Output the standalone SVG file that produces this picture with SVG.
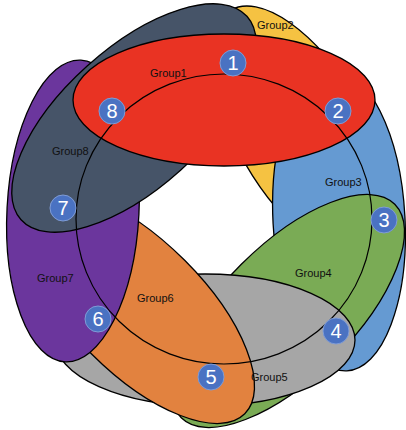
<svg xmlns="http://www.w3.org/2000/svg" width="406" height="430" viewBox="0 0 406 430">
<style>
.e{stroke:#000;stroke-width:1.3}
.lbl{font-family:"Liberation Sans",Arial,sans-serif;font-size:11px;fill:#111}
.badge circle{fill:#4A72C2;stroke:#7F9CD6;stroke-width:1}
.badge text{font-family:"Liberation Sans",Arial,sans-serif;font-size:20px;fill:#fff;text-anchor:middle}
</style>
<rect width="406" height="430" fill="#fff"/>
<g id="group2"><ellipse class="e" cx="300.5" cy="131.4" rx="140" ry="64" transform="rotate(60 300.5 131.4)" fill="#F5C242"/></g>
<g id="group3"><ellipse class="e" cx="339" cy="220" rx="66" ry="151" transform="rotate(-3 339 220)" fill="#659AD2"/></g>
<g id="group4"><ellipse class="e" cx="288" cy="311" rx="151" ry="66" transform="rotate(-45 288 311)" fill="#7AAB55"/></g>
<g id="group5"><ellipse class="e" cx="205" cy="340" rx="150" ry="66" fill="#A6A6A6"/></g>
<g id="group6"><ellipse class="e" cx="138" cy="307" rx="151" ry="66" transform="rotate(45 138 307)" fill="#E2823F"/></g>
<g id="group7"><ellipse class="e" cx="73" cy="211" rx="66" ry="151" transform="rotate(3 73 211)" fill="#6B369D"/></g>
<g id="group8"><ellipse class="e" cx="134" cy="118" rx="152" ry="70" transform="rotate(-42 134 118)" fill="#465468"/></g>
<g id="group1"><ellipse class="e" cx="224" cy="100" rx="151" ry="66" fill="#E93323"/></g>
<g id="ring"><ellipse cx="224" cy="219" rx="148" ry="145" fill="none" stroke="#000" stroke-width="1.2"/></g>
<g id="labels">
<text class="lbl" x="150" y="77">Group1</text>
<text class="lbl" x="257" y="29">Group2</text>
<text class="lbl" x="325" y="186">Group3</text>
<text class="lbl" x="295" y="277">Group4</text>
<text class="lbl" x="251" y="381">Group5</text>
<text class="lbl" x="137" y="302">Group6</text>
<text class="lbl" x="37" y="282">Group7</text>
<text class="lbl" x="52" y="155">Group8</text>
</g>
<g id="connectors"></g>
<g id="badges">
<g id="badge1" class="badge"><circle cx="233" cy="63" r="13"/><text x="233" y="70">1</text></g>
<g id="badge2" class="badge"><circle cx="338" cy="111" r="13"/><text x="338" y="118">2</text></g>
<g id="badge3" class="badge"><circle cx="384" cy="220" r="13"/><text x="384" y="227">3</text></g>
<g id="badge4" class="badge"><circle cx="336" cy="331" r="13"/><text x="336" y="338">4</text></g>
<g id="badge5" class="badge"><circle cx="211" cy="377" r="13"/><text x="211" y="384">5</text></g>
<g id="badge6" class="badge"><circle cx="98" cy="319" r="13"/><text x="98" y="326">6</text></g>
<g id="badge7" class="badge"><circle cx="63" cy="208" r="13"/><text x="63" y="215">7</text></g>
<g id="badge8" class="badge"><circle cx="112" cy="111" r="13"/><text x="112" y="118">8</text></g>
</g>
</svg>
